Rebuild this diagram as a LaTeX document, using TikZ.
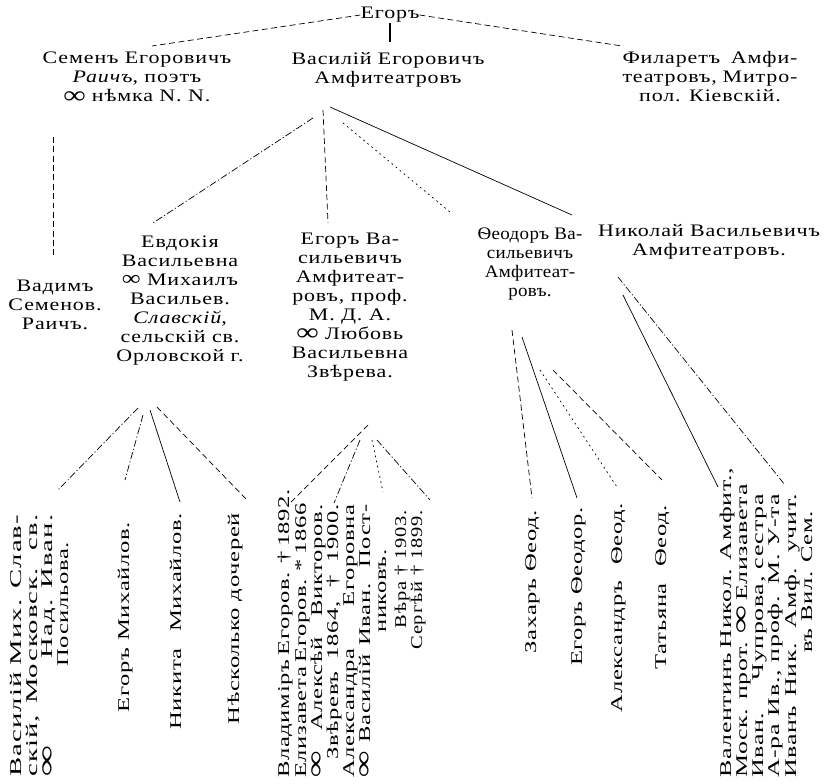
\documentclass[tikz,border=0pt]{standalone}
\usepackage{fontspec}
\setmainfont{Liberation Serif}[FakeStretch=1.25, LetterSpace=5]
\newfontfamily\narrowf{Liberation Serif}[FakeStretch=1.08, LetterSpace=2]
\newfontfamily\botf{Liberation Serif}[FakeStretch=1.5, LetterSpace=4]
\newfontfamily\widef{Liberation Serif}[FakeStretch=1.75, LetterSpace=7]
\newfontfamily\semif{Liberation Serif}[FakeStretch=1.58, LetterSpace=4]
\usetikzlibrary{calc}
\newcommand\fmid{\fontsize{15}{16.2}\selectfont}
\newcommand\fbot{\botf\fontsize{14}{14}\selectfont}
\newcommand\fwide{\widef\fontsize{14}{14}\selectfont}
\newcommand\fsemi{\semif\fontsize{14}{14}\selectfont}
\newcommand\Inf{{\fontsize{21}{16}\selectfont\bfseries\smash{\raisebox{-1pt}{∞}}}}
\newcommand\Infs{{\fontsize{18}{16}\selectfont\smash{∞}}}
\begin{document}
\begin{tikzpicture}[x=0.03cm,y=-0.03cm,
  mid/.style={font=\fmid, align=center, inner sep=0pt, anchor=north},
  bot/.style={font=\fbot, rotate=90, inner sep=0pt},
  bs/.style={bot, anchor=base west},
  be/.style={bot, anchor=base east},
  sol/.style={line width=0.6pt},
  dsh/.style={line width=0.6pt, dash pattern=on 5pt off 3pt},
  ddt/.style={line width=0.6pt, dash pattern=on 6pt off 2pt on 1pt off 2pt},
  dtt/.style={line width=0.6pt, dash pattern=on 1.5pt off 3pt}]
\fill[white] (0,0) rectangle (834,784);
\useasboundingbox (0,0) rectangle (834,784);

% ---- top generation
\node[mid, anchor=center] (egor) at (390,15) {Егоръ};
\node[mid] (semen) at (137,52) {Семенъ Егоровичъ\\\textit{Раичъ}, поэтъ\\\Inf\ нѣмка N. N.};
\node[mid] (vasiliy) at (388,52) {Василій Егоровичъ\\Амфитеатровъ};
\node[mid] (filaret) at (710,51) {\makebox[5.25cm][s]{Филаретъ Амфи-}\\\makebox[5.25cm][s]{театровъ, Митро-}\\пол. Кіевскій.};

\coordinate (c-sem) at (152,46);
\coordinate (c-fil) at (622,46);
\coordinate (c-vas) at (390,42);
\draw[dsh] (egor.west) -- (c-sem);
\draw[dsh] (egor.east) -- (c-fil);
\draw[line width=1.6pt] (egor.south) -- (c-vas);

% ---- second generation
\node[mid] (vadim) at (55,280) {Вадимъ\\Семенов.\\Раичъ.};
\node[mid] (evdokia) at (180,236) {Евдокія\\Васильевна\\\Infs\ Михаилъ\\Васильев.\\\textit{Славскій},\\сельскій св.\\Орловской г.};
\node[mid] (egorv) at (350,233) {Егоръ Ва-\\сильевичъ\\Амфитеат-\\ровъ, проф.\\М. Д. А.\\\Inf\ Любовь\\Васильевна\\Звѣрева.};
\node[mid, font=\narrowf\fmid] (feodor) at (530,228) {Ѳеодоръ Ва-\\сильевичъ\\Амфитеат-\\ровъ.};
\node[mid] (nikolay) at (709,224) {Николай Васильевичъ\\Амфитеатровъ.};

\coordinate (s-out) at (53,137);  \coordinate (vad-in) at (53,258);
\draw[dsh] (s-out) -- (vad-in);
\coordinate (v-o1) at (313,118); \coordinate (evd-in) at (153,223);
\coordinate (v-o2) at (323,110); \coordinate (egv-in) at (328,223);
\coordinate (v-o3) at (343,123); \coordinate (feo-in) at (450,212);
\coordinate (v-o4) at (330,107); \coordinate (nik-in) at (572,215);
\draw[ddt] (v-o1) -- (evd-in);
\draw[dsh] (v-o2) -- (egv-in);
\draw[dtt] (v-o3) -- (feo-in);
\draw[sol] (v-o4) -- (nik-in);

% ---- third generation: children of Evdokia
\node[bs, font=\fwide] (a1) at (21,777) {\makebox[7.86cm][s]{Василій Мих. Слав-}};
\node[bs, font=\fwide] (a2) at (37,777) {\makebox[7.86cm][s]{скій, Московск. св.}};
\node[bs, font=\fwide] (a3) at (53,777) {\makebox[7.86cm][s]{\Inf\hfill Над. Иван.}};
\node[bs] (a4) at (68,667) {Посильова.};
\node[be] (b1) at (129,522) {Егоръ Михайлов.};
\node[be] (c1) at (181,513) {Никита\quad Михайлов.};
\node[be] (d1) at (239,513) {Нѣсколько дочерей};

\coordinate (ev-o1) at (138,408); \coordinate (a-in) at (58,490);
\coordinate (ev-o2) at (143,415); \coordinate (b-in) at (125,480);
\coordinate (ev-o3) at (150,410); \coordinate (c-in) at (180,502);
\coordinate (ev-o4) at (157,407); \coordinate (d-in) at (247,500);
\draw[ddt] (ev-o1) -- (a-in);
\draw[ddt] (ev-o2) -- (b-in);
\draw[sol] (ev-o3) -- (c-in);
\draw[dsh] (ev-o4) -- (d-in);

% ---- children of Egor Vasilievich
\node[bs] (e1) at (289,778) {\makebox[8.19cm][s]{Владиміръ Егоров. † 1892.}};
\node[bs] (f1) at (306,778) {\makebox[8.19cm][s]{Елизавета Егоров. * 1866}};
\node[bs] (f2) at (322,778) {\makebox[8.19cm][s]{\Inf\ Алексѣй Викторов.}};
\node[bs] (f3) at (338,760) {\makebox[7.65cm][s]{Звѣревъ 1864, † 1900.}};
\node[bs] (g1) at (354,778) {\makebox[8.19cm][s]{Александра Егоровна}};
\node[bs] (g2) at (370,778) {\makebox[8.19cm][s]{\Inf\ Василій Иван. Пост-}};
\node[bs] (g3) at (386,633) {никовъ.};
\node[be, font=\fontsize{14}{14}\selectfont] (h1) at (406,510) {Вѣра † 1903.};
\node[be, font=\fontsize{14}{14}\selectfont] (i1) at (422,510) {Сергѣй † 1899.};

\coordinate (eg-o1) at (368,425); \coordinate (e-in) at (290,503);
\coordinate (eg-o2) at (360,440); \coordinate (f-in) at (334,503);
\coordinate (eg-o3) at (372,440); \coordinate (g-in) at (383,492);
\coordinate (eg-o4) at (377,440); \coordinate (h-in) at (430,500);
\draw[dsh] (eg-o1) -- (e-in);
\draw[ddt] (eg-o2) -- (f-in);
\draw[dtt] (eg-o3) -- (g-in);
\draw[ddt] (eg-o4) -- (h-in);

% ---- children of Feodor
\node[be] (j1) at (536,510) {Захаръ Ѳеод.};
\node[be] (k1) at (582,507) {Егоръ Ѳеодор.};
\node[be] (l1) at (622,503) {Александръ\quad Ѳеод.};
\node[be] (m1) at (666,505) {Татьяна\quad Ѳеод.};

\coordinate (fe-o1) at (512,330); \coordinate (j-in) at (532,498);
\coordinate (fe-o2) at (522,337); \coordinate (k-in) at (577,498);
\coordinate (fe-o3) at (540,370); \coordinate (l-in) at (617,487);
\coordinate (fe-o4) at (553,370); \coordinate (m-in) at (662,480);
\draw[dsh] (fe-o1) -- (j-in);
\draw[sol] (fe-o2) -- (k-in);
\draw[dtt] (fe-o3) -- (l-in);
\draw[dsh] (fe-o4) -- (m-in);

% ---- children of Nikolay
\node[bs, font=\fsemi] (n1) at (731,778) {\makebox[8.5cm][s]{Валентинъ Никол. Амфит.,}};
\node[bs, font=\fsemi] (n2) at (747,778) {\makebox[8.5cm][s]{Моск. прот. \Inf\ Елизавета}};
\node[bs, font=\fsemi] (n3) at (763,778) {\makebox[8.5cm][s]{Иван.\hfill Чупрова, сестра}};
\node[bs, font=\fsemi] (n4) at (779,778) {\makebox[8.5cm][s]{А-ра Ив., проф. М. У-та}};
\node[bs, font=\fsemi] (o1) at (796,778) {\makebox[8.5cm][s]{Иванъ Ник. Амф. учит.}};
\node[bs] (o2) at (812,653) {въ Вил. Сем.};

\coordinate (ni-o1) at (623,295); \coordinate (n-in) at (718,487);
\coordinate (ni-o2) at (618,277); \coordinate (o-in) at (785,485);
\draw[sol] (ni-o1) -- (n-in);
\draw[ddt] (ni-o2) -- (o-in);
\end{tikzpicture}
\end{document}
